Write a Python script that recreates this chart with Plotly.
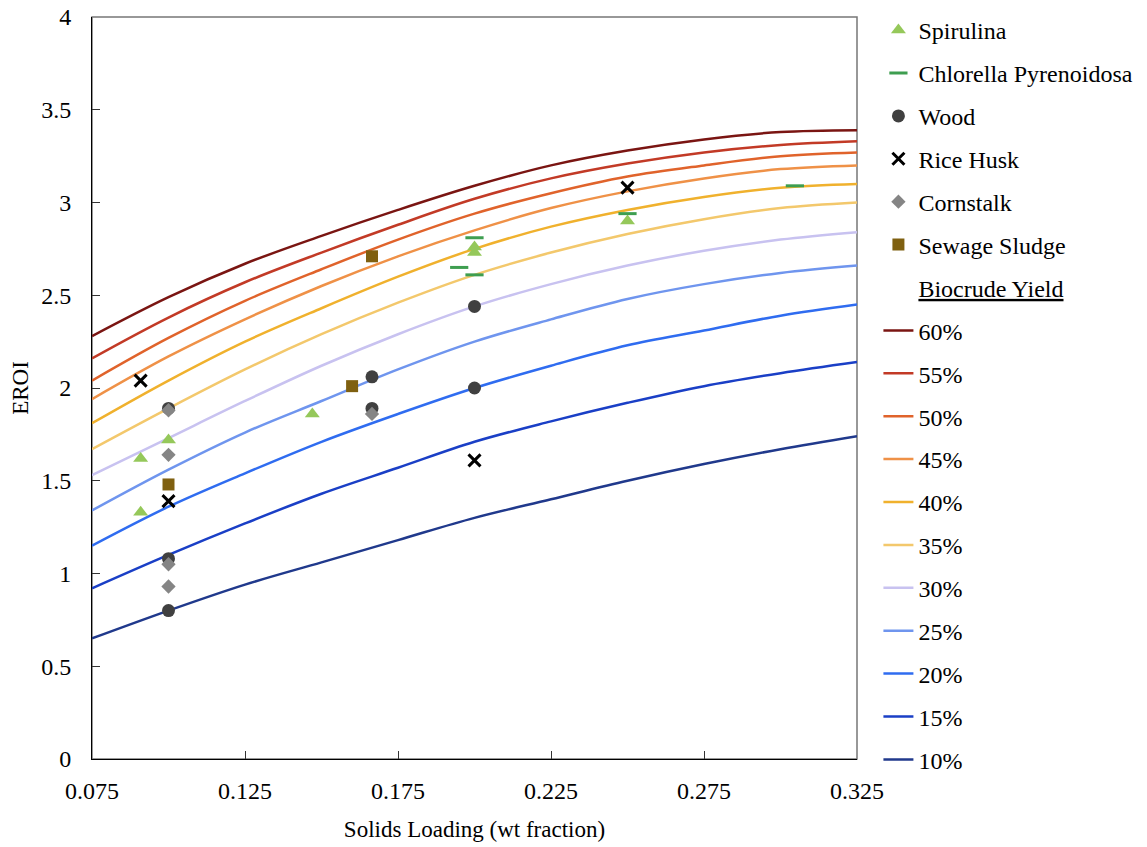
import plotly.graph_objects as go

solids = [0.075, 0.1, 0.125, 0.15, 0.175, 0.2, 0.225, 0.25, 0.275, 0.3, 0.325]

yield_labels = ["60%", "55%", "50%", "45%", "40%", "35%", "30%", "25%", "20%", "15%", "10%"]
eroi_60 = [2.28, 2.49, 2.67, 2.82, 2.96, 3.09, 3.20, 3.28, 3.34, 3.38, 3.39]
eroi_55 = [2.16, 2.38, 2.57, 2.73, 2.88, 3.02, 3.13, 3.21, 3.27, 3.31, 3.33]
eroi_50 = [2.04, 2.27, 2.47, 2.64, 2.80, 2.94, 3.05, 3.14, 3.20, 3.25, 3.27]
eroi_45 = [1.94, 2.17, 2.37, 2.55, 2.71, 2.85, 2.97, 3.06, 3.13, 3.18, 3.20]
eroi_40 = [1.81, 2.04, 2.25, 2.43, 2.60, 2.75, 2.87, 2.96, 3.03, 3.08, 3.10]
eroi_35 = [1.67, 1.89, 2.10, 2.29, 2.46, 2.61, 2.73, 2.83, 2.91, 2.97, 3.00]
eroi_30 = [1.53, 1.73, 1.93, 2.12, 2.29, 2.44, 2.56, 2.66, 2.74, 2.80, 2.84]
eroi_25 = [1.34, 1.56, 1.76, 1.93, 2.10, 2.25, 2.37, 2.48, 2.56, 2.62, 2.66]
eroi_20 = [1.15, 1.36, 1.54, 1.71, 1.86, 2.00, 2.12, 2.23, 2.31, 2.39, 2.45]
eroi_15 = [0.92, 1.10, 1.27, 1.43, 1.57, 1.71, 1.82, 1.92, 2.01, 2.08, 2.14]
eroi_10 = [0.65, 0.80, 0.94, 1.06, 1.18, 1.30, 1.40, 1.50, 1.59, 1.67, 1.74]
curves = [eroi_60, eroi_55, eroi_50, eroi_45, eroi_40, eroi_35,
          eroi_30, eroi_25, eroi_20, eroi_15, eroi_10]
curve_colors = ["#7a1512", "#c23a26", "#e0632b", "#ef9147", "#f0b12d", "#f3c86c",
                "#c8c2f0", "#6f95ee", "#2f6cf0", "#1a3fc6", "#20398c"]

spirulina_x = [0.0909, 0.0909, 0.1, 0.147, 0.2, 0.2, 0.25]
spirulina_y = [1.62, 1.33, 1.72, 1.86, 2.73, 2.76, 2.90]
chlorella_x = [0.2, 0.195, 0.2, 0.25, 0.3047]
chlorella_y = [2.81, 2.65, 2.61, 2.94, 3.09]
wood_x = [0.1, 0.1, 0.1, 0.1665, 0.1665, 0.2, 0.2]
wood_y = [1.89, 1.08, 0.80, 2.06, 1.89, 2.44, 2.00]
rice_x = [0.0909, 0.1, 0.2, 0.25]
rice_y = [2.04, 1.39, 1.61, 3.08]
corn_x = [0.1, 0.1, 0.1, 0.1, 0.1665]
corn_y = [1.88, 1.64, 1.05, 0.93, 1.86]
sludge_x = [0.1, 0.16, 0.1665]
sludge_y = [1.48, 2.01, 2.71]

fig = go.Figure()

rank = 100
for lab, vals, col in zip(yield_labels, curves, curve_colors):
    fig.add_trace(go.Scatter(x=solids, y=vals, mode="lines", name=lab,
                             line=dict(color=col, width=2.5, shape="spline"),
                             legendrank=rank, legendgroup=lab))
    rank += 1

fig.add_trace(go.Scatter(x=[None], y=[None], mode="lines", name="<u>Biocrude Yield</u>",
                         line=dict(color="rgba(0,0,0,0)", width=0),
                         legendrank=99, legendgroup="hdr"))

fig.add_trace(go.Scatter(x=spirulina_x, y=spirulina_y, mode="markers", name="Spirulina",
                         marker=dict(symbol="triangle-up", size=13, color="#95c85a"),
                         legendrank=1, legendgroup="a"))
fig.add_trace(go.Scatter(x=chlorella_x, y=chlorella_y, mode="markers", name="Chlorella Pyrenoidosa",
                         marker=dict(symbol="line-ew", size=13, color="#3e9e50",
                                     line=dict(color="#3e9e50", width=3)),
                         legendrank=2, legendgroup="b"))
fig.add_trace(go.Scatter(x=wood_x, y=wood_y, mode="markers", name="Wood",
                         marker=dict(symbol="circle", size=13, color="#404040"),
                         legendrank=3, legendgroup="c"))
fig.add_trace(go.Scatter(x=corn_x, y=corn_y, mode="markers", name="Cornstalk",
                         marker=dict(symbol="diamond", size=11, color="#858585"),
                         legendrank=5, legendgroup="e"))
fig.add_trace(go.Scatter(x=rice_x, y=rice_y, mode="markers", name="Rice Husk",
                         marker=dict(symbol="x-thin", size=12, color="black",
                                     line=dict(color="black", width=3)),
                         legendrank=4, legendgroup="d"))
fig.add_trace(go.Scatter(x=sludge_x, y=sludge_y, mode="markers", name="Sewage Sludge",
                         marker=dict(symbol="square", size=12, color="#7f6010"),
                         legendrank=6, legendgroup="f"))

font_fam = "Liberation Serif"
fig.update_layout(
    width=1139, height=839,
    margin=dict(l=84, r=290, t=9, b=88, autoexpand=False),
    plot_bgcolor="white", paper_bgcolor="white",
    font=dict(family=font_fam, size=24, color="black"),
    showlegend=True,
    legend=dict(x=1.028, y=1.0, xanchor="left", yanchor="top", yref="container",
                traceorder="grouped", tracegroupgap=8.7, maxheight=1.0,
                font=dict(family=font_fam, size=24, color="black"),
                itemwidth=30),
    xaxis=dict(range=[0.075, 0.325], tick0=0.075, dtick=0.05, tickformat=".3f",
               ticks="inside", ticklen=8, tickcolor="#333", showline=True,
               linecolor="black", linewidth=1, showgrid=False, zeroline=False,
               ticklabelstandoff=10, automargin=False, ticklabeloverflow="allow",
               title=dict(text="Solids Loading (wt fraction)",
                          font=dict(family=font_fam, size=23, color="black"), standoff=18),
               tickfont=dict(family=font_fam, size=24, color="black")),
    yaxis=dict(range=[0, 4], dtick=0.5, ticks="inside", ticklen=8, tickcolor="#333",
               showline=True, linecolor="black", linewidth=1, showgrid=False,
               zeroline=False, ticklabelstandoff=15, automargin=False,
               ticklabeloverflow="allow",
               title=dict(text="EROI", font=dict(family=font_fam, size=23, color="black"),
                          standoff=10),
               tickfont=dict(family=font_fam, size=24, color="black")),
    shapes=[dict(type="rect", xref="paper", yref="paper", x0=0, y0=0, x1=1, y1=1,
                 line=dict(color="#777", width=1.5), layer="below")],
)

fig.write_html("out.html")
